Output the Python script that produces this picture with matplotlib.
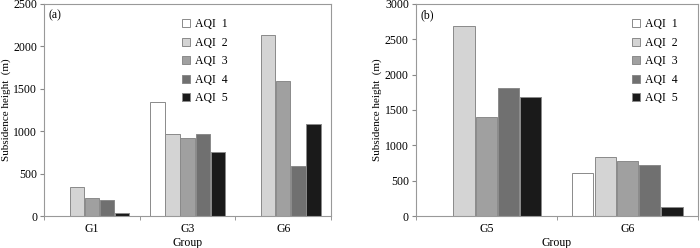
#!/usr/bin/env python3

import numpy as np
import matplotlib
matplotlib.use("Agg")
import matplotlib.pyplot as plt

levels = ["AQI  1", "AQI  2", "AQI  3", "AQI  4", "AQI  5"]
colors = ["#ffffff", "#d4d4d4", "#a0a0a0", "#707070", "#1a1a1a"]

groups_a = ["G1", "G3", "G6"]
values_a = [
    [0, 1350, 0],       # AQI 1
    [345, 970, 2130],   # AQI 2
    [215, 925, 1590],   # AQI 3
    [185, 965, 585],    # AQI 4
    [30, 755, 1080],    # AQI 5
]

groups_b = ["G5", "G6"]
values_b = [
    [0, 615],
    [2690, 840],
    [1400, 780],
    [1810, 725],
    [1680, 125],
]


def draw_panel(ax, groups, values, ymax, tag, legend_x):
    n = len(groups)
    x = np.arange(n)
    pitch = 0.158
    width = 0.150
    for i, (lev, vals) in enumerate(zip(levels, values)):
        ax.bar(x + (i - 2) * pitch, vals, width, color=colors[i],
               edgecolor="#8a8a8a", linewidth=0.7, label=lev)
    ax.set_xlim(-0.5, n - 0.5)
    ax.set_ylim(0, ymax)
    ax.set_xticks(x)
    ax.set_xticklabels(groups)
    ax.set_xticks(np.arange(n + 1) - 0.5, minor=True)
    ax.tick_params(axis="x", which="major", length=0, pad=5)
    ax.tick_params(axis="x", which="minor", length=3, color="#888888")
    ax.tick_params(axis="y", length=3, color="#888888", pad=2)
    ax.tick_params(labelsize=8.5)
    for s in ax.spines.values():
        s.set_color("#999999")
        s.set_linewidth(0.8)
    ax.set_xlabel("Group", fontsize=8.5)
    ax.xaxis.set_label_coords(0.5, -0.1)
    ax.set_ylabel("Subsidence height  (m)", fontsize=8, labelpad=2)
    ax.text(0.015, 0.975, tag, transform=ax.transAxes, fontsize=8.5,
            va="top", ha="left")
    ax.legend(loc="upper left", bbox_to_anchor=(legend_x, 0.96), frameon=False,
              fontsize=8.5, handlelength=0.7, handleheight=0.7,
              handletextpad=0.4, labelspacing=0.55, borderpad=0)


def main():
    plt.rcParams["font.family"] = ["Liberation Serif", "DejaVu Serif"]
    fig = plt.figure(figsize=(7, 2.48), dpi=100)
    ax1 = fig.add_axes([0.063, 0.129, 0.410, 0.855])
    ax2 = fig.add_axes([0.594, 0.129, 0.403, 0.855])

    draw_panel(ax1, groups_a, values_a, 2500, "(a)", 0.46)
    draw_panel(ax2, groups_b, values_b, 3000, "(b)", 0.745)

    fig.savefig("out.png", dpi=100)


if __name__ == "__main__":
    main()
